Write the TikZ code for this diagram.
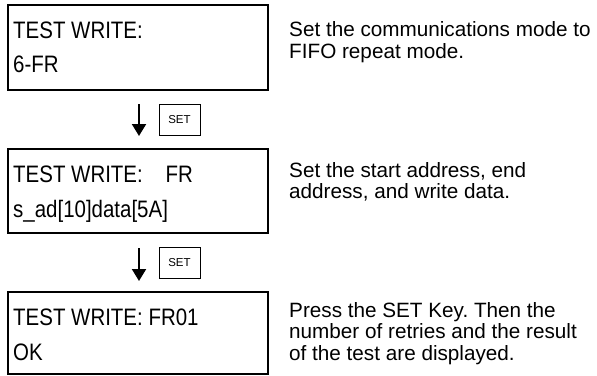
\documentclass[tikz,border=0pt]{standalone}
\usepackage{fontspec}
\setmainfont{Liberation Sans}
\newfontfamily\lcdfont[FakeStretch=0.86]{Liberation Sans}
\usetikzlibrary{arrows.meta}
\frenchspacing
\tikzset{
  lcdbox/.style={draw=black,line width=2pt},
  lcdtext/.style={anchor=base west,inner sep=0pt,font=\lcdfont\fontsize{23.8}{26}\selectfont},
  desc/.style={anchor=base west,inner sep=0pt,font=\fontsize{20.7}{22}\selectfont},
  setkey/.style={draw=black,line width=0.9pt,minimum width=41pt,minimum height=31pt,inner sep=0pt,font=\fontsize{11.5}{13}\selectfont},
  flow/.style={line width=2pt,-{Triangle[width=14pt,length=12pt]}}
}
\begin{document}
\begin{tikzpicture}[x=1pt,y=-1pt]
\useasboundingbox (0,0) rectangle (597,375);
% LCD boxes
\draw[lcdbox] (8,5) rectangle (268,90);
\draw[lcdbox] (8,149) rectangle (268,233);
\draw[lcdbox] (8,292) rectangle (268,374);
% LCD texts
\node[lcdtext] (a1) at (13,38) {TEST WRITE:};
\node[lcdtext] (a2) at (13,72) {6-FR};
\node[lcdtext] (b1) at (13,182) {TEST WRITE:\ \ \ \ FR};
\node[lcdtext] (b2) at (13,217) {s\_ad[10]data[5A]};
\node[lcdtext] (c1) at (13,325) {TEST WRITE: FR01};
\node[lcdtext] (c2) at (13,360) {OK};
% arrows and SET keys
\coordinate (t1) at (139,104);
\coordinate (h1) at (139,136);
\draw[flow] (t1) -- (h1);
\node[setkey] (s1) at (179.5,119.5) {SET};
\coordinate (t2) at (139,248);
\coordinate (h2) at (139,281);
\draw[flow] (t2) -- (h2);
\node[setkey] (s2) at (179.5,263) {SET};
% descriptions
\node[desc] (d11) at (289,36) {Set the communications mode to};
\node[desc] (d12) at (289,58) {FIFO repeat mode.};
\node[desc] (d21) at (289,177) {Set the start address, end};
\node[desc] (d22) at (289,198) {address, and write data.};
\node[desc] (d31) at (289,317) {Press the SET Key. Then the};
\node[desc] (d32) at (289,338.5) {number of retries and the result};
\node[desc] (d33) at (289,360) {of the test are displayed.};
\end{tikzpicture}
\end{document}
